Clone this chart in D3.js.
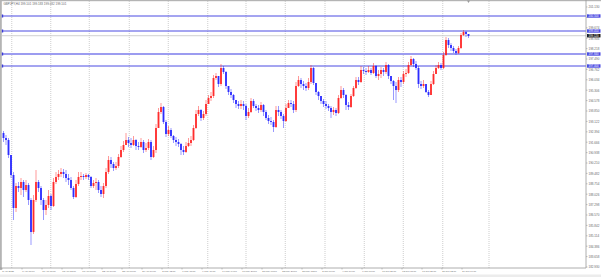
<!DOCTYPE html>
<html>
<head>
<meta charset="utf-8">
<script src="https://cdn.jsdelivr.net/npm/d3@7"></script>
<style>
  html, body { margin: 0; padding: 0; background: #fff; overflow: hidden; }
  svg { display: block; }
  .axis-label { font-family: "Liberation Sans", Arial, sans-serif; fill: #666; }
</style>
</head>
<body>
<div id="chart"></div>
<script>
// GBPJPY H4 candles (open of a bar = close of the bar before)
const symbolTitle = "GBPJPY,H4  199.101 199.183 199.032 199.101";
const firstOpen = 192.31;

const closes = [
  191.96, 191.82, 190.77, 189.37, 187.06, 188.60, 188.46, 188.88, 188.32, 188.67,
  187.62, 185.38, 187.62, 188.88, 188.46, 187.62, 186.92, 187.27, 187.90, 187.20,
  188.88, 189.23, 189.44, 189.58, 189.44, 189.16, 189.02, 188.46, 187.83, 188.74,
  189.23, 189.30, 189.23, 189.37, 189.23, 188.60, 188.81, 188.88, 188.32, 188.04,
  188.60, 189.58, 190.42, 190.14, 189.86, 190.00, 190.63, 191.12, 191.47, 191.82,
  191.61, 191.47, 191.82, 191.40, 191.33, 191.68, 191.12, 191.26, 191.68, 190.63,
  191.12, 192.66, 193.78, 194.13, 193.08, 192.24, 192.52, 192.10, 191.82, 191.68,
  191.54, 191.12, 190.98, 191.40, 191.61, 191.82, 192.66, 193.64, 193.92, 193.36,
  193.64, 194.34, 194.76, 194.90, 196.16, 196.30, 195.74, 196.86, 196.58, 195.60,
  195.18, 194.97, 194.62, 194.34, 194.20, 194.34, 194.20, 193.50, 193.78, 194.55,
  194.20, 194.06, 193.92, 194.27, 193.78, 193.36, 193.15, 193.08, 192.73, 193.92,
  193.78, 193.50, 193.15, 194.06, 194.41, 194.34, 193.92, 195.60, 196.02, 195.74,
  195.60, 195.46, 195.88, 196.86, 195.81, 195.18, 194.90, 194.55, 194.34, 194.20,
  194.06, 193.78, 193.92, 193.71, 194.76, 195.32, 194.97, 194.27, 194.13, 194.90,
  195.46, 196.02, 195.88, 196.72, 196.65, 196.58, 196.72, 196.51, 197.00, 196.30,
  196.44, 196.72, 196.58, 197.07, 196.30, 195.95, 195.60, 195.32, 196.02, 195.88,
  196.44, 196.51, 197.07, 197.49, 197.14, 196.86, 195.74, 195.60, 195.74, 195.18,
  194.97, 195.74, 196.44, 196.86, 197.07, 196.86, 197.77, 198.82, 198.47, 198.26,
  198.05, 197.91, 198.26, 199.17, 199.38, 199.24, 199.10
];

const highs = [
  192.45, 192.17, 191.96, 190.77, 189.58, 188.81, 188.88, 189.16, 189.02, 189.02,
  188.81, 187.76, 187.97, 189.72, 189.02, 188.60, 187.76, 187.62, 188.32, 188.04,
  189.16, 189.58, 189.72, 189.86, 189.79, 189.72, 189.44, 189.23, 188.60, 189.02,
  189.58, 189.58, 189.44, 189.51, 189.44, 189.30, 189.02, 189.16, 189.02, 188.60,
  188.81, 189.86, 190.70, 190.63, 190.28, 190.28, 190.84, 191.40, 191.75, 192.31,
  192.03, 191.96, 192.10, 191.89, 191.68, 191.96, 191.82, 191.61, 191.89, 191.82,
  191.40, 192.94, 194.06, 194.41, 194.20, 193.22, 192.80, 192.66, 192.17, 192.03,
  191.89, 191.61, 191.40, 191.68, 191.96, 192.10, 192.87, 193.92, 194.20, 193.99,
  193.85, 194.62, 194.97, 195.18, 196.37, 196.51, 196.30, 197.14, 197.00, 196.65,
  195.60, 195.39, 195.04, 194.62, 194.55, 194.62, 194.55, 194.34, 194.06, 194.76,
  194.69, 194.34, 194.27, 194.48, 194.34, 193.92, 193.57, 193.43, 193.22, 194.20,
  194.20, 193.92, 193.64, 194.34, 194.62, 194.62, 194.55, 195.88, 196.30, 196.16,
  195.95, 195.81, 196.16, 197.07, 196.93, 195.81, 195.25, 194.83, 194.69, 194.55,
  194.34, 194.20, 194.13, 194.06, 194.97, 195.60, 195.46, 195.04, 194.48, 195.04,
  195.60, 196.23, 196.23, 197.00, 196.93, 196.86, 197.00, 196.86, 197.21, 197.07,
  196.72, 196.93, 196.86, 197.28, 197.14, 196.30, 196.02, 195.88, 196.23, 196.23,
  196.65, 196.79, 197.28, 197.70, 197.56, 197.35, 197.00, 195.95, 196.02, 195.74,
  195.32, 195.95, 196.65, 197.07, 197.28, 197.21, 197.98, 199.03, 198.96, 198.61,
  198.40, 198.19, 198.40, 199.31, 199.52, 199.45, 199.24
];

const lows = [
  191.68, 191.47, 190.56, 189.16, 186.22, 186.78, 188.18, 187.97, 187.83, 188.18,
  187.27, 184.47, 185.24, 187.48, 188.18, 187.27, 186.22, 186.57, 187.06, 186.92,
  187.13, 188.74, 189.02, 189.23, 189.16, 188.88, 188.67, 188.32, 187.69, 187.76,
  188.60, 189.02, 189.02, 189.09, 189.02, 188.46, 188.46, 188.32, 188.11, 187.83,
  187.76, 188.46, 189.44, 189.86, 189.65, 189.72, 189.86, 190.56, 190.98, 191.47,
  191.33, 191.26, 191.40, 191.12, 191.12, 191.26, 190.91, 190.98, 191.12, 190.42,
  190.56, 190.91, 192.66, 193.64, 192.94, 192.03, 192.10, 191.96, 191.61, 191.40,
  191.33, 190.77, 190.77, 190.91, 191.33, 191.40, 191.75, 192.59, 193.50, 193.15,
  193.22, 193.50, 194.34, 194.55, 194.76, 196.02, 195.53, 195.60, 196.44, 195.39,
  194.97, 194.76, 194.41, 194.06, 193.99, 193.99, 193.92, 193.22, 193.36, 193.71,
  194.06, 193.85, 193.71, 193.78, 193.50, 193.22, 192.94, 192.87, 192.38, 192.66,
  193.50, 193.29, 192.66, 193.08, 194.06, 194.13, 193.71, 193.78, 195.53, 195.46,
  195.32, 195.25, 195.32, 195.74, 195.67, 194.97, 194.62, 194.34, 194.13, 193.99,
  193.85, 193.36, 193.57, 193.50, 193.64, 194.69, 194.76, 193.92, 193.92, 194.06,
  194.83, 195.39, 195.67, 195.81, 196.44, 196.37, 196.51, 196.37, 196.44, 196.16,
  196.02, 196.16, 196.30, 196.44, 196.09, 195.74, 194.62, 194.41, 195.18, 195.53,
  195.74, 196.23, 196.44, 197.00, 196.93, 196.72, 195.46, 195.39, 195.46, 195.11,
  194.83, 194.97, 195.67, 196.44, 196.79, 196.72, 196.79, 197.70, 198.26, 198.05,
  197.91, 197.77, 197.84, 198.19, 199.10, 199.03, 198.96
];

// right price scale labels
const priceTicks = [
  201.130, 200.402, 199.674, 198.946, 198.218, 197.490, 196.762, 196.034, 195.306,
  194.578, 193.850, 193.122, 192.394, 191.666, 190.938, 190.210, 189.482, 188.754,
  188.026, 187.298, 186.570, 185.842, 185.114, 184.386, 183.658, 182.930
];

// bottom time labels, one every 8 bars
const dateLabels = [
  "3 Apr 2025", "8 Apr 08:00", "11 Apr 08:00", "15 Apr 12:00", "18 Apr 08:00",
  "22 Apr 16:00", "25 Apr 08:00", "29 Apr 16:00", "2 May 12:00", "7 May 08:00",
  "9 May 16:00", "14 May 04:00", "16 May 20:00", "21 May 08:00", "23 May 20:00",
  "28 May 12:00", "2 Jun 00:00", "4 Jun 16:00", "6 Jun 08:00", "10 Jun 20:00",
  "13 Jun 08:00", "17 Jun 20:00", "20 Jun 12:00", "24 Jun 04:00"
];
const labelEvery = 8;

// week separators (bar position of each Monday 00:00)
const weekStarts = [3.3, 18.9, 34.3, 50.3, 65.9, 81.7, 97, 112.7, 128.6, 144.3, 159.9, 175.7, 194.2];

// horizontal levels drawn on the chart
const levelLines = [200.50, 199.45, 197.00];
const zoneLine = 197.84;
const bidPrice = 199.12;

const width = 601, height = 277;
const margin = {left: 2, top: 1, right: 586, bottom: 268};

const svg = d3.select("#chart")
    .append("svg")
    .attr("width", width)
    .attr("height", height);

const xScale = d3.scaleLinear()
    .domain([0, closes.length - 1])
    .range([3.5, 468.5]);

const yScale = d3.scaleLinear()
    .domain([priceTicks[priceTicks.length - 1], priceTicks[0]])
    .range([267, 7]);

const bars = closes.map((c, i) => {
    const o = i === 0 ? firstOpen : closes[i - 1];
    return {i, o, c, h: Math.max(highs[i], o, c), l: Math.min(lows[i], o, c)};
});

// window frame
svg.append("rect").attr("x", 0).attr("y", 0).attr("width", width).attr("height", 1.2).attr("fill", "#b4b4b4");
svg.append("rect").attr("x", 0).attr("y", 0).attr("width", 1.8).attr("height", 270).attr("fill", "#b4b4b4");
svg.append("rect").attr("x", 0).attr("y", 274.5).attr("width", width).attr("height", 2.5).attr("fill", "#ececec");

// weekly grid
svg.append("g")
    .selectAll("line")
    .data(weekStarts)
    .join("line")
    .attr("x1", d => xScale(d))
    .attr("x2", d => xScale(d))
    .attr("y1", margin.top)
    .attr("y2", margin.bottom)
    .attr("stroke", "#b8b8b8")
    .attr("stroke-width", 0.7)
    .attr("stroke-dasharray", "1,1");

// bid line
svg.append("line")
    .attr("x1", margin.left).attr("x2", margin.right)
    .attr("y1", yScale(bidPrice)).attr("y2", yScale(bidPrice))
    .attr("stroke", "#c4c4c4").attr("stroke-width", 0.8);

// level lines
svg.append("line")
    .attr("x1", margin.left).attr("x2", margin.right)
    .attr("y1", yScale(zoneLine)).attr("y2", yScale(zoneLine))
    .attr("stroke", "#9c9cf0").attr("stroke-width", 2);

svg.append("g")
    .selectAll("line")
    .data(levelLines)
    .join("line")
    .attr("x1", margin.left).attr("x2", margin.right)
    .attr("y1", d => yScale(d)).attr("y2", d => yScale(d))
    .attr("stroke", "#4a4ae2").attr("stroke-width", 1);

// small markers on the left edge of each level
svg.append("g")
    .selectAll("rect")
    .data(levelLines.concat([zoneLine]))
    .join("rect")
    .attr("x", 1.8).attr("y", d => yScale(d) - 1.5)
    .attr("width", 1.4).attr("height", 3)
    .attr("fill", "#3a3ad8");

// candles
const colorOf = d => d.c >= d.o ? "#ff1a1a" : "#1a1aff";
const candles = svg.append("g");

candles.selectAll("line")
    .data(bars)
    .join("line")
    .attr("x1", d => xScale(d.i))
    .attr("x2", d => xScale(d.i))
    .attr("y1", d => yScale(d.h))
    .attr("y2", d => yScale(d.l))
    .attr("stroke", colorOf)
    .attr("stroke-width", 1)
    .attr("stroke-opacity", 0.45);

candles.selectAll("rect")
    .data(bars)
    .join("rect")
    .attr("x", d => xScale(d.i) - 0.95)
    .attr("width", 1.9)
    .attr("y", d => yScale(Math.max(d.o, d.c)))
    .attr("height", d => Math.max(0.8, Math.abs(yScale(d.o) - yScale(d.c))))
    .attr("fill", colorOf)
    .attr("fill-opacity", 0.85);

// axes lines
svg.append("line")
    .attr("x1", margin.right).attr("x2", margin.right)
    .attr("y1", 0).attr("y2", margin.bottom)
    .attr("stroke", "#9a9a9a").attr("stroke-width", 0.8);
svg.append("line")
    .attr("x1", 0).attr("x2", margin.right)
    .attr("y1", margin.bottom).attr("y2", margin.bottom)
    .attr("stroke", "#9a9a9a").attr("stroke-width", 0.8);

// price boxes for levels and bid
const boxes = levelLines.concat([zoneLine]).map(p => ({p, fill: "#4a4ae2"}))
    .concat([{p: bidPrice, fill: "#1e1e1e"}]);

// price axis (a tick label sitting under a price box is hidden by it)
const visibleTicks = priceTicks.filter(t =>
    boxes.every(b => Math.abs(yScale(t) - yScale(b.p)) > 2));

const priceAxis = svg.append("g");
priceAxis.selectAll("line")
    .data(priceTicks)
    .join("line")
    .attr("x1", margin.right).attr("x2", margin.right + 1.5)
    .attr("y1", d => yScale(d)).attr("y2", d => yScale(d))
    .attr("stroke", "#8a8a8a").attr("stroke-width", 0.5);
priceAxis.selectAll("text")
    .data(visibleTicks)
    .join("text")
    .attr("class", "axis-label")
    .attr("x", 588.5)
    .attr("y", d => yScale(d) + 1.3)
    .attr("font-size", 3)
    .text(d => d.toFixed(3));

const boxG = svg.append("g")
    .selectAll("g")
    .data(boxes)
    .join("g")
    .attr("transform", d => `translate(587, ${yScale(d.p)})`);
boxG.append("rect")
    .attr("x", 0).attr("y", -1.7)
    .attr("width", 13.5).attr("height", 3.4)
    .attr("fill", d => d.fill);
boxG.append("text")
    .attr("x", 1.5).attr("y", 0.9)
    .attr("font-size", 2.8)
    .attr("font-family", "Liberation Sans, Arial, sans-serif")
    .attr("fill", "#fff")
    .text(d => d.p.toFixed(3));

// time axis
const timeAxis = svg.append("g");
timeAxis.selectAll("line")
    .data(dateLabels)
    .join("line")
    .attr("x1", (d, k) => xScale(k * labelEvery) - 1.5)
    .attr("x2", (d, k) => xScale(k * labelEvery) - 1.5)
    .attr("y1", margin.bottom).attr("y2", margin.bottom + 1.5)
    .attr("stroke", "#8a8a8a").attr("stroke-width", 0.5);
timeAxis.selectAll("text")
    .data(dateLabels)
    .join("text")
    .attr("class", "axis-label")
    .attr("x", (d, k) => xScale(k * labelEvery) - 1.2)
    .attr("y", 272.3)
    .attr("font-size", 2.4)
    .text(d => d);

// title
svg.append("text")
    .attr("class", "axis-label")
    .attr("x", 3.5)
    .attr("y", 5)
    .attr("font-size", 3)
    .attr("fill", "#555")
    .text(symbolTitle);

// chart shift marker
svg.append("path")
    .attr("d", `M${xScale(closes.length - 1) - 1.5},0.5 L${xScale(closes.length - 1) + 1.5},0.5 L${xScale(closes.length - 1)},3 Z`)
    .attr("fill", "#9a9a9a");
</script>
</body>
</html>
